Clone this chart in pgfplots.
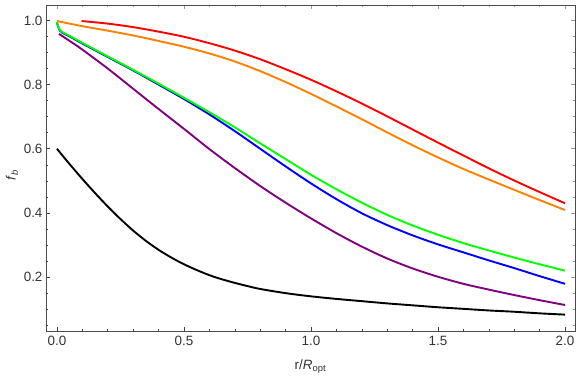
\documentclass[border=0pt]{standalone}
\usepackage{pgfplots}
\pgfplotsset{compat=1.18}
\usepackage{fontspec}
\setmainfont{Liberation Sans}
\definecolor{mred}{rgb}{1,0,0}
\definecolor{morange}{rgb}{1,0.5,0}
\definecolor{mgreen}{rgb}{0,1,0}
\definecolor{mblue}{rgb}{0,0,1}
\definecolor{mpurple}{rgb}{0.5,0,0.5}
\pgfplotsset{
  mframe/.style={
    at={(0,0)}, anchor=south west,
    scale only axis, width=529bp, height=326bp,
    xmin=-0.043, xmax=2.039, ymin=0.032, ymax=1.048,
    xtick={0,0.5,1,1.5,2}, ytick={0.2,0.4,0.6,0.8,1.0},
    minor xtick={0,0.1,0.2,0.3,0.4,0.5,0.6,0.7,0.8,0.9,1.0,1.1,1.2,1.3,1.4,1.5,1.6,1.7,1.8,1.9,2.0},
    minor ytick={0.05,0.1,0.15,0.2,0.25,0.3,0.35,0.4,0.45,0.5,0.55,0.6,0.65,0.7,0.75,0.8,0.85,0.9,0.95,1.0},
    tick align=inside, major tick length=4.5bp, minor tick length=2.5bp,
  }
}
\begin{document}
\begin{tikzpicture}
\begin{axis}[
  mframe,
  axis line style={draw=none},
  xtick pos=right, ytick pos=right,
  xticklabels={}, yticklabels={},
  every tick/.style={black!40, line width=0.5bp},
]
\end{axis}
\begin{axis}[
  mframe,
  axis line style={draw=black!70, line width=0.6bp},
  xtick pos=left, ytick pos=left,
  every tick/.style={black!75, line width=0.5bp},
  /pgf/number format/assume math mode=true,
  /pgf/number format/.cd, fixed, fixed zerofill, precision=1, /pgfplots/.cd,
  ticklabel style={font=\fontsize{13.5}{15}\selectfont, text=black!80},
  xticklabel style={yshift=-2bp},
  xlabel={r/\textit{R}\textsubscript{opt}},
  ylabel={\textit{f}\textsubscript{\textit{b}}},
  xlabel style={font=\fontsize{13.5}{15}\selectfont, text=black!80, at={(axis description cs:0.5,0)}, anchor=base, yshift=-38bp},
  ylabel style={font=\fontsize{13.5}{15}\selectfont, text=black!80, at={(axis description cs:0,0.5)}, anchor=center, xshift=-7bp, yshift=34bp},
  every axis plot/.append style={line width=1.9bp, smooth, tension=0.5},
]
\addplot[mred] coordinates {
(0.097,0.998) (0.2,0.990) (0.3,0.979) (0.4,0.965) (0.5,0.949) (0.6,0.929)
(0.7,0.906) (0.8,0.879) (0.9,0.848) (1.0,0.815) (1.1,0.779) (1.2,0.741)
(1.3,0.701) (1.4,0.660) (1.5,0.619) (1.6,0.579) (1.7,0.539) (1.8,0.501)
(1.9,0.465) (2.0,0.430)};
\addplot[morange] coordinates {
(0,0.998) (0.1,0.982) (0.2,0.968) (0.3,0.953) (0.4,0.936) (0.5,0.918)
(0.6,0.897) (0.7,0.872) (0.8,0.842) (0.9,0.808) (1.0,0.771) (1.1,0.732)
(1.2,0.692) (1.3,0.651) (1.4,0.611) (1.5,0.573) (1.6,0.537) (1.7,0.504)
(1.8,0.472) (1.9,0.440) (2.0,0.409)};
\addplot[mblue] coordinates {
(0,0.993) (0.005,0.980) (0.012,0.968) (0.025,0.960) (0.05,0.950) (0.1,0.928)
(0.2,0.886) (0.3,0.844) (0.4,0.800) (0.5,0.755) (0.6,0.707) (0.7,0.655)
(0.8,0.600) (0.9,0.545) (1.0,0.492) (1.1,0.443) (1.2,0.399) (1.3,0.362)
(1.4,0.330) (1.5,0.302) (1.6,0.277) (1.7,0.252) (1.8,0.228) (1.9,0.203) (2.0,0.179)};
\addplot[mgreen] coordinates {
(0,0.995) (0.005,0.982) (0.012,0.970) (0.025,0.962) (0.05,0.952) (0.1,0.930)
(0.2,0.888) (0.3,0.846) (0.4,0.803) (0.5,0.759) (0.6,0.714) (0.7,0.667)
(0.8,0.617) (0.9,0.568) (1.0,0.519) (1.1,0.474) (1.2,0.432) (1.3,0.394)
(1.4,0.361) (1.5,0.332) (1.6,0.306) (1.7,0.283) (1.8,0.261) (1.9,0.240) (2.0,0.220)};
\addplot[mpurple] coordinates {
(0.008,0.958) (0.05,0.936) (0.1,0.909) (0.2,0.850) (0.3,0.787) (0.4,0.724)
(0.5,0.662) (0.6,0.599) (0.7,0.540) (0.8,0.484) (0.9,0.432) (1.0,0.383)
(1.1,0.337) (1.2,0.295) (1.3,0.258) (1.4,0.227) (1.5,0.201) (1.6,0.179)
(1.7,0.161) (1.8,0.144) (1.9,0.128) (2.0,0.113)};
\addplot[black] coordinates {
(0,0.600) (0.05,0.552) (0.1,0.506) (0.15,0.462) (0.2,0.420) (0.25,0.381)
(0.3,0.345) (0.35,0.313) (0.4,0.285) (0.45,0.261) (0.5,0.240) (0.55,0.222)
(0.6,0.206) (0.65,0.193) (0.7,0.182) (0.75,0.172) (0.8,0.163) (0.9,0.150)
(1.0,0.140) (1.1,0.132) (1.2,0.125) (1.3,0.118) (1.4,0.112) (1.5,0.106)
(1.6,0.101) (1.7,0.096) (1.8,0.092) (1.9,0.087) (2.0,0.083)};
\end{axis}
\pgfresetboundingbox
\path[use as bounding box] (-46bp,-48bp) rectangle (535bp,331bp);
\end{tikzpicture}
\end{document}
